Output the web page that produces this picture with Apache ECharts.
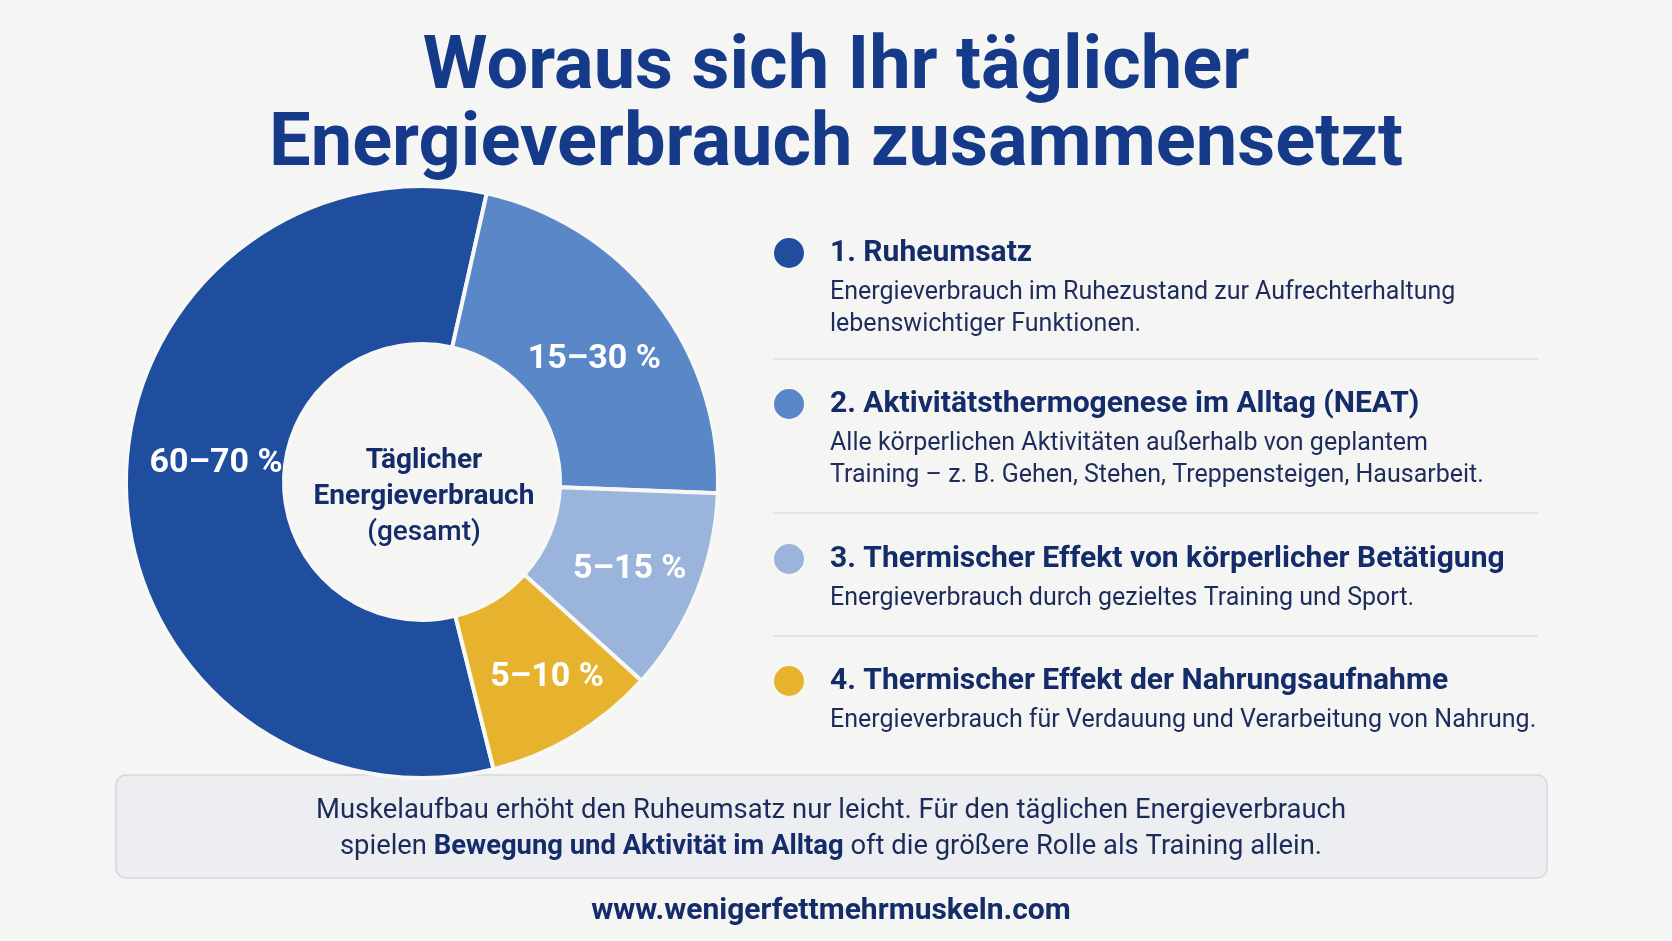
<!DOCTYPE html>
<html>
<head>
<meta charset="utf-8">
<script src="https://cdn.jsdelivr.net/npm/echarts@6/dist/echarts.min.js"></script>
<style>
  html, body { margin: 0; padding: 0; background: #f5f5f3; }
  #chart { width: 1672px; height: 941px; }
</style>
</head>
<body>
<div id="chart"></div>
<script>
const categories = [
  '1. Ruheumsatz',
  '2. Aktivitätsthermogenese im Alltag (NEAT)',
  '3. Thermischer Effekt von körperlicher Betätigung',
  '4. Thermischer Effekt der Nahrungsaufnahme'
]
const shares = [57.4, 22.1, 11.1, 9.4]
const rangeLabels = ['60–70 %', '15–30 %', '5–15 %', '5–10 %']
const descriptions = [
  'Energieverbrauch im Ruhezustand zur Aufrechterhaltung\nlebenswichtiger Funktionen.',
  'Alle körperlichen Aktivitäten außerhalb von geplantem\nTraining – z. B. Gehen, Stehen, Treppensteigen, Hausarbeit.',
  'Energieverbrauch durch gezieltes Training und Sport.',
  'Energieverbrauch für Verdauung und Verarbeitung von Nahrung.'
]
const colors = ['#1f4e9f', '#5a87c8', '#9ab4dc', '#e7b22e']

const navy = '#142c6a'
const font = 'Roboto, "Noto Sans", sans-serif'

// legend rows on the right
const headingY = [252, 403, 558, 680]
const separatorY = [359, 513, 636]

// nudges for the slice labels, the picture has them a bit off the mid angle
const labelNudge = [[14, -21], [-2, 12], [4, 4], [12, 7]]

const chart = echarts.init( document.getElementById( 'chart' ) )

const legends = categories.map( ( name, i ) => ( {
  data : [name],
  left : 772,
  top : headingY[i] - 16,
  padding : 0,
  icon : 'circle',
  itemWidth : 72,
  itemHeight : 32,
  selectedMode : false,
  textStyle : {
    color : navy,
    fontFamily : font,
    fontWeight : 'bold',
    fontSize : 30
  }
} ) )

const graphics = []

descriptions.forEach( ( text, i ) => {
  graphics.push( {
    type : 'text',
    x : 830,
    y : headingY[i] + 41 - 16,
    style : {
      text,
      font : '25px ' + font,
      fill : '#1d2c5c',
      lineHeight : 32,
      verticalAlign : 'top'
    }
  } )
} )

separatorY.forEach( y => {
  graphics.push( {
    type : 'line',
    shape : { x1 : 773, y1 : y, x2 : 1538, y2 : y },
    style : { stroke : '#dcdde1', lineWidth : 1.5 }
  } )
} )

// centre of the donut
graphics.push( {
  type : 'text',
  x : 424,
  y : 497,
  style : {
    text : '{b|Täglicher}\n{b|Energieverbrauch}\n{n|(gesamt)}',
    align : 'center',
    verticalAlign : 'middle',
    rich : {
      b : { fontFamily : font, fontWeight : 'bold', fontSize : 28, lineHeight : 36, fill : navy },
      n : { fontFamily : font, fontWeight : 500, fontSize : 28, lineHeight : 36, fill : navy }
    }
  }
} )

// note box
graphics.push( {
  type : 'rect',
  shape : { x : 116, y : 775, width : 1431, height : 103, r : 10 },
  style : { fill : '#eceef2', stroke : '#d3d7df', lineWidth : 1.5 }
} )
graphics.push( {
  type : 'text',
  x : 831,
  y : 829,
  style : {
    text : '{n|Muskelaufbau erhöht den Ruheumsatz nur leicht. Für den täglichen Energieverbrauch}\n{n|spielen }{b|Bewegung und Aktivität im Alltag}{n| oft die größere Rolle als Training allein.}',
    align : 'center',
    verticalAlign : 'middle',
    rich : {
      n : { fontFamily : font, fontSize : 27.4, lineHeight : 36, fill : '#1c2b5a' },
      b : { fontFamily : font, fontSize : 27.4, fontWeight : 'bold', lineHeight : 36, fill : navy }
    }
  }
} )

graphics.push( {
  type : 'text',
  x : 831,
  y : 911,
  style : {
    text : 'www.wenigerfettmehrmuskeln.com',
    font : 'bold 30px ' + font,
    fill : navy,
    align : 'center',
    verticalAlign : 'middle'
  }
} )

chart.setOption( {
  backgroundColor : '#f5f5f3',
  animation : false,
  title : {
    text : 'Woraus sich Ihr täglicher\nEnergieverbrauch zusammensetzt',
    left : 'center',
    top : 26,
    textStyle : {
      color : '#163a8a',
      fontFamily : font,
      fontWeight : 'bold',
      fontSize : 74,
      lineHeight : 77
    }
  },
  legend : legends,
  graphic : graphics,
  series : [
    {
      type : 'pie',
      center : [422, 482],
      radius : [138, 296],
      startAngle : -76,
      clockwise : true,
      avoidLabelOverlap : false,
      emphasis : { disabled : true },
      itemStyle : {
        borderColor : '#f7f7f5',
        borderWidth : 4
      },
      label : {
        show : true,
        position : 'inside',
        color : '#ffffff',
        fontFamily : font,
        fontWeight : 'bold',
        fontSize : 34,
        formatter : p => rangeLabels[p.dataIndex]
      },
      labelLayout : p => ( { dx : labelNudge[p.dataIndex][0], dy : labelNudge[p.dataIndex][1] } ),
      labelLine : { show : false },
      data : categories.map( ( name, i ) => ( {
        name,
        value : shares[i],
        itemStyle : { color : colors[i] }
      } ) )
    }
  ]
} )
</script>
</body>
</html>
